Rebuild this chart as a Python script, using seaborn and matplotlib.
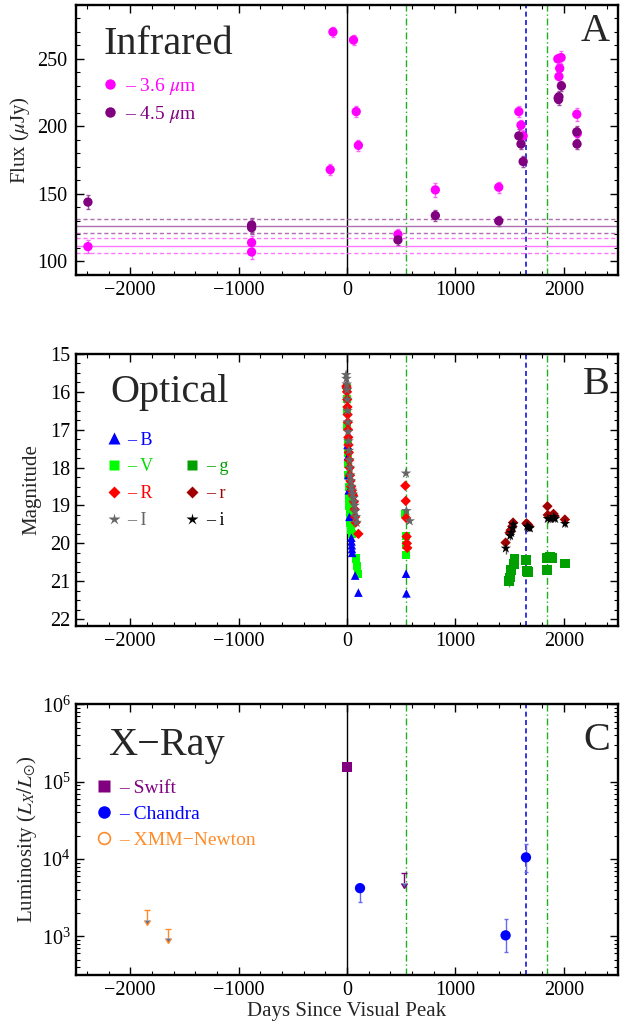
import matplotlib
matplotlib.use("Agg")
import matplotlib.pyplot as plt
import seaborn as sns
from matplotlib.ticker import MultipleLocator, LogLocator, NullFormatter, FixedLocator
from matplotlib.lines import Line2D

# ---------------- Panel A : Infrared ----------------
ir36_days = [-2390, -880, -880, -155, -130, 60, 85, 105, 470, 815, 1400, 1585, 1605, 1625,
             1945, 1955, 1962, 1975, 2120, 2125]
ir36_flux = [111, 114, 107, 168, 270, 264, 211, 186, 120, 153, 155, 211, 201, 193,
             250, 237, 243, 251, 209, 195]
ir36_err = [5, 5, 5, 4, 4, 4, 4, 4, 4, 5, 4, 4, 4, 4, 4, 4, 4, 5, 5, 4]

ir45_days = [-2390, -880, -880, 470, 815, 1400, 1585, 1605, 1625, 1948, 1952, 1955, 1978, 2120, 2122]
ir45_flux = [144, 127, 125, 116, 134, 130, 193, 187, 174, 221, 220, 222, 230, 196, 187]
ir45_err = [5, 5, 5, 4, 4, 4, 5, 4, 4, 4, 4, 4, 4, 4, 4]

base36, base36_sig = 111.7, 5.5
base45, base45_sig = 126.3, 5.0

# ---------------- Panel B : Optical ----------------
B_days = [5, 8, 12, 16, 22, 40, 42, 44, 46, 48, 75, 105, 545, 548]
B_mag = [17.4, 17.7, 18.2, 18.6, 19.3, 19.85, 19.95, 20.05, 20.15, 20.25, 20.85, 21.3, 20.8, 21.32]

V_days = [-3, 0, 2, 4, 6, 8, 10, 12, 15, 18, 20, 24, 28, 32, 36, 40, 44, 85, 92, 100,
          538, 542, 546, 548]
V_mag = [15.9, 16.2, 16.5, 16.9, 17.3, 17.6, 17.9, 18.2, 18.5, 18.8, 19.0, 19.15, 19.3, 19.45,
         19.55, 19.65, 19.75, 20.4, 20.6, 20.8, 19.22, 19.8, 20.05, 20.3]

R_days = [-6, -3, 0, 2, 4, 6, 8, 10, 12, 14, 17, 20, 24, 28, 32, 38, 45, 52, 58, 64, 70, 75,
          80, 105, 538, 542, 546, 550, 552, 556]
R_mag = [15.85, 15.9, 16.0, 16.2, 16.4, 16.6, 16.8, 17.0, 17.2, 17.4, 17.6, 17.8, 18.0, 18.2,
         18.35, 18.5, 18.6, 18.7, 18.75, 18.9, 19.1, 19.3, 19.45, 19.75, 18.48, 18.88, 19.33,
         19.82, 20.0, 20.12]

I_days = [-8, -5, -2, 0, 2, 5, 8, 10, 14, 18, 22, 26, 30, 35, 40, 46, 52, 58, 64, 70, 76, 82,
          88, 544, 548, 578]
I_mag = [15.55, 15.65, 15.8, 15.95, 16.2, 16.5, 16.8, 17.05, 17.3, 17.55, 17.8, 18.0, 18.2,
         18.35, 18.5, 18.6, 18.7, 18.8, 18.9, 19.0, 19.15, 19.3, 19.45, 18.15, 19.14, 19.41]

g_days = [1495, 1500, 1508, 1515, 1540, 1545, 1650, 1662, 1672, 1845, 1848, 1875, 1895, 2010]
g_mag = [21.0, 20.9, 20.8, 20.7, 20.55, 20.4, 20.44, 20.72, 20.75, 20.38, 20.71, 20.36, 20.38, 20.53]
g_err = [0.15, 0.1, 0.1, 0.1, 0.1, 0.1, 0.08, 0.08, 0.08, 0.08, 0.1, 0.08, 0.08, 0.08]

r_days = [1463, 1500, 1510, 1525, 1532, 1655, 1668, 1680, 1849, 1852, 1872, 1905, 1915, 2010]
r_mag = [19.98, 19.72, 19.65, 19.55, 19.45, 19.47, 19.5, 19.55, 19.02, 19.25, 19.3, 19.22, 19.28, 19.37]

i_days = [1465, 1505, 1515, 1528, 1535, 1662, 1675, 1688, 1852, 1878, 1908, 1920, 2012]
i_mag = [20.13, 19.8, 19.72, 19.6, 19.5, 19.55, 19.58, 19.6, 19.35, 19.35, 19.3, 19.35, 19.48]
i_err = [0.15, 0.12, 0.12, 0.12, 0.1, 0.08, 0.08, 0.08, 0.1, 0.08, 0.08, 0.08, 0.08]

# ---------------- Panel C : X-ray ----------------
swift_days = [0]
swift_lum = [1.55e5]
swift_ul_days = [525]
swift_ul_lum = [6.5e3]
chandra_days = [120, 1463, 1651]
chandra_lum = [4.2e3, 1.03e3, 1.05e4]
chandra_lo = [2.8e3, 0.62e3, 0.68e4]
chandra_hi = [4.5e3, 1.7e3, 1.57e4]
xmm_ul_days = [-1845, -1654]
xmm_ul_lum = [2.2e3, 1.26e3]

green_event_days = [543, 1849]
blue_event_day = 1651

x_ticks = [-2000, -1000, 0, 1000, 2000]

# ---------------- style ----------------
sns.set_theme(style="ticks")
plt.rcParams['font.family'] = ['Liberation Serif', 'DejaVu Serif']
plt.rcParams['mathtext.fontset'] = 'stix'
plt.rcParams['axes.unicode_minus'] = True

MAG = '#FF00FF'
PUR = '#800080'
ORANGE = '#FF8C2A'
GREEN_LINE = '#1FB01F'
BLUE_LINE = '#1414DC'

fig = plt.figure(figsize=(6.25, 10.26), dpi=100)
axA = fig.add_axes([0.1216, 0.7320, 0.8672, 0.2632])
axB = fig.add_axes([0.1216, 0.3899, 0.8672, 0.2651])
axC = fig.add_axes([0.1216, 0.0497, 0.8672, 0.2638])


def common(ax):
    ax.set_xlim(-2500, 2500)
    ax.xaxis.set_major_locator(FixedLocator(x_ticks))
    ax.xaxis.set_minor_locator(MultipleLocator(200))
    for s in ax.spines.values():
        s.set_linewidth(1.7)
        s.set_color('black')
    ax.tick_params(which='both', direction='in', top=True, right=True, colors='black',
                   labelsize=14.5, pad=4)
    ax.tick_params(which='major', length=6, width=1.0)
    ax.tick_params(which='minor', length=3, width=0.8)
    ax.axvline(0, color='black', lw=1.0, zorder=1)
    for d in green_event_days:
        ax.axvline(d, color=GREEN_LINE, lw=1.0, ls=(0, (5, 2, 1, 2)), zorder=1)
    ax.axvline(blue_event_day, color=BLUE_LINE, lw=1.2, ls=(0, (3, 2)), zorder=1)
    ax.set_xlabel('')


# ---------- Panel A ----------
common(axA)
axA.set_ylim(90, 290)
axA.yaxis.set_major_locator(FixedLocator([100, 150, 200, 250]))
axA.yaxis.set_minor_locator(MultipleLocator(10))
axA.tick_params(axis='y', pad=6)
for base, sig, col in [(base36, base36_sig, '#FF77FF'), (base45, base45_sig, '#B070B0')]:
    axA.axhline(base, color=col, lw=1.0, zorder=1)
    axA.axhline(base + sig, color=col, lw=1.0, ls=(0, (3, 2)), zorder=1)
    axA.axhline(base - sig, color=col, lw=1.0, ls=(0, (3, 2)), zorder=1)

axA.errorbar(ir36_days, ir36_flux, yerr=ir36_err, fmt='none', ecolor='#FF66FF',
             elinewidth=1.0, capsize=1.5, zorder=3)
axA.errorbar(ir45_days, ir45_flux, yerr=ir45_err, fmt='none', ecolor='#A050A0',
             elinewidth=1.0, capsize=1.5, zorder=3)
sns.scatterplot(x=ir36_days, y=ir36_flux, color=MAG, s=45, edgecolor='none', ax=axA, zorder=4)
sns.scatterplot(x=ir45_days, y=ir45_flux, color=PUR, s=45, edgecolor='none', ax=axA, zorder=4)
axA.set_ylabel('Flux ($\\mu$Jy)', fontsize=15)
axA.yaxis.set_label_coords(-0.082, 0.5)
axA.text(0.05, 0.852, 'Infrared', transform=axA.transAxes, fontsize=29, ha='left', va='center')
axA.text(0.985, 0.90, 'A', transform=axA.transAxes, fontsize=29, ha='right', va='center')
hA = [Line2D([], [], marker='o', color=MAG, ls='none', markersize=7.5, mec='none'),
      Line2D([], [], marker='o', color=PUR, ls='none', markersize=7.5, mec='none')]
axA.legend(hA, ['– 3.6 $\\mu$m', '– 4.5 $\\mu$m'], loc='upper left', bbox_to_anchor=(0.03, 0.772),
           frameon=False, fontsize=14, handlelength=0.8, handletextpad=0.4, labelspacing=0.35,
           borderpad=0, labelcolor=[MAG, PUR])

# ---------- Panel B ----------
common(axB)
axB.set_ylim(22.18, 15)
axB.yaxis.set_major_locator(FixedLocator(list(range(15, 23))))
axB.yaxis.set_minor_locator(MultipleLocator(0.25))
axB.errorbar(g_days, g_mag, yerr=g_err, fmt='none', ecolor='#55AA55', elinewidth=1.0, zorder=2)
axB.errorbar(i_days, i_mag, yerr=i_err, fmt='none', ecolor='#555555', elinewidth=1.0, zorder=2)
bands = [
    (V_days, V_mag, 's', '#00FF00', 34),
    (B_days, B_mag, '^', '#0000FF', 38),
    (R_days, R_mag, 'D', '#FF0000', 28),
    (I_days, I_mag, '*', '#666666', 65),
    (g_days, g_mag, 's', '#00A000', 50),
    (r_days, r_mag, 'D', '#A00000', 28),
    (i_days, i_mag, '*', '#000000', 60),
]
for d, m, mk, col, sz in bands:
    sns.scatterplot(x=d, y=m, marker=mk, color=col, s=sz, edgecolor='none', ax=axB, zorder=4)
axB.set_ylabel('Magnitude', fontsize=15)
axB.yaxis.set_label_coords(-0.064, 0.5)
axB.text(0.063, 0.86, 'Optical', transform=axB.transAxes, fontsize=29, ha='left', va='center')
axB.text(0.985, 0.888, 'B', transform=axB.transAxes, fontsize=29, ha='right', va='center')
blank = Line2D([], [], ls='none', marker=None)
hB = [Line2D([], [], marker='^', color='#0000FF', ls='none', markersize=8, mec='none'),
      Line2D([], [], marker='s', color='#00FF00', ls='none', markersize=7, mec='none'),
      Line2D([], [], marker='D', color='#FF0000', ls='none', markersize=6.5, mec='none'),
      Line2D([], [], marker='*', color='#666666', ls='none', markersize=9, mec='none'),
      blank,
      Line2D([], [], marker='s', color='#00A000', ls='none', markersize=7, mec='none'),
      Line2D([], [], marker='D', color='#A00000', ls='none', markersize=6.5, mec='none'),
      Line2D([], [], marker='*', color='#000000', ls='none', markersize=9, mec='none')]
lB = ['– B', '– V', '– R', '– I', '', '– g', '– r', '– i']
axB.legend(hB, lB, loc='upper left', bbox_to_anchor=(0.04, 0.748), ncol=2, frameon=False,
           fontsize=13, handlelength=0.8, handletextpad=0.35, labelspacing=0.55,
           columnspacing=1.75, borderpad=0,
           labelcolor=['#0000FF', '#00DD00', '#FF0000', '#666666', 'white', '#00A000',
                       '#A00000', '#000000'])

# ---------- Panel C ----------
common(axC)
axC.set_yscale('log')
axC.set_ylim(10 ** 2.5, 1e6)
axC.yaxis.set_major_locator(LogLocator(base=10, numticks=10))
axC.yaxis.set_minor_locator(LogLocator(base=10, subs=range(2, 10), numticks=20))
axC.yaxis.set_minor_formatter(NullFormatter())
yerr_c = [[c - lo for c, lo in zip(chandra_lum, chandra_lo)],
          [hi - c for c, hi in zip(chandra_lum, chandra_hi)]]
axC.errorbar(chandra_days, chandra_lum, yerr=yerr_c, fmt='none', ecolor='#6A6AF0',
             elinewidth=1.0, capsize=1.5, zorder=3)
axC.errorbar(xmm_ul_days, xmm_ul_lum, yerr=[[v * 0.25 for v in xmm_ul_lum], [0, 0]],
             uplims=True, fmt='none', ecolor=ORANGE, elinewidth=1.0, capsize=2.5, zorder=3)
axC.errorbar(swift_ul_days, swift_ul_lum, yerr=[[v * 0.25 for v in swift_ul_lum], [0]],
             uplims=True, fmt='none', ecolor=PUR, elinewidth=1.0, capsize=2.5, zorder=3)
sns.scatterplot(x=swift_days, y=swift_lum, marker='s', color=PUR, s=55, edgecolor='none',
                ax=axC, zorder=4)
sns.scatterplot(x=chandra_days, y=chandra_lum, marker='o', color='#0000FF', s=55,
                edgecolor='none', ax=axC, zorder=4)
axC.set_ylabel('Luminosity ($L_X/L_{\\odot}$)', fontsize=15)
axC.yaxis.set_label_coords(-0.068, 0.5)
axC.set_xlabel('Days Since Visual Peak', fontsize=15, labelpad=2)
axC.text(0.059, 0.849, 'X−Ray', transform=axC.transAxes, fontsize=29, ha='left', va='center')
axC.text(0.985, 0.867, 'C', transform=axC.transAxes, fontsize=29, ha='right', va='center')
hC = [Line2D([], [], marker='s', color=PUR, ls='none', markersize=8, mec='none'),
      Line2D([], [], marker='o', color='#0000FF', ls='none', markersize=9, mec='none'),
      Line2D([], [], marker='o', color=ORANGE, mfc='none', ls='none', markersize=8.5,
             mew=1.2)]
axC.legend(hC, ['– Swift', '– Chandra', '– XMM−Newton'], loc='upper left',
           bbox_to_anchor=(0.02, 0.758), frameon=False, fontsize=14, handlelength=0.8,
           handletextpad=0.35, labelspacing=0.42, borderpad=0,
           labelcolor=[PUR, '#0000FF', ORANGE])

fig.savefig('out.png', dpi=100)
